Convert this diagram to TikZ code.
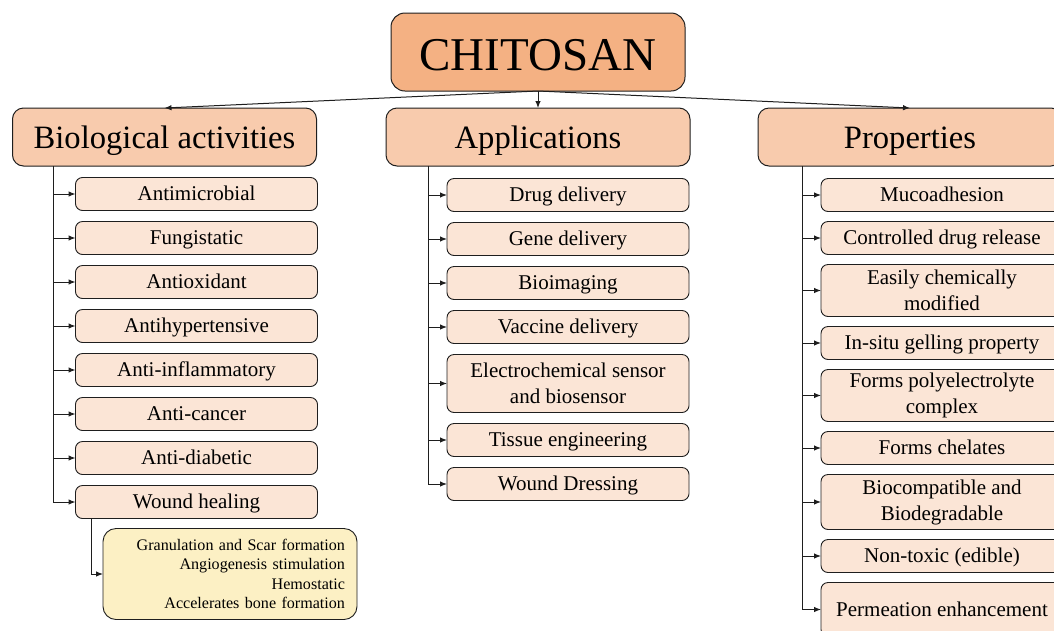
\documentclass[tikz,border=0pt]{standalone}
\usepackage{fontspec}
\setmainfont{Liberation Serif}
\usetikzlibrary{positioning,arrows.meta}
\definecolor{rootfill}{HTML}{F4B183}
\definecolor{groupfill}{HTML}{F8CBAD}
\definecolor{itemfill}{HTML}{FBE5D6}
\definecolor{notefill}{HTML}{FCF0C4}
\definecolor{edge}{HTML}{1E1E1E}

\begin{document}
\begin{tikzpicture}[
    x=1pt, y=-1pt,
    node distance=11pt,
    root/.style={draw=edge, line width=1pt, fill=rootfill, rounded corners=14pt, minimum width=294pt, minimum height=78pt, inner sep=0pt, outer sep=0pt, text height=37pt, text depth=0pt, font=\fontsize{47}{50}\selectfont},
    group/.style={draw=edge, line width=1pt, fill=groupfill, rounded corners=11pt, minimum width=304pt, minimum height=58pt, inner sep=0pt, outer sep=0pt, text height=23.5pt, text depth=0pt, font=\fontsize{32.6}{36}\selectfont},
    item/.style={draw=edge, line width=0.9pt, fill=itemfill, rounded corners=7pt, minimum width=242pt, minimum height=33pt, inner sep=0pt, outer sep=0pt, text height=13.6pt, text depth=0pt, align=center, font=\fontsize{21}{26}\selectfont},
    tall/.style={item, text height={}, text depth={}, minimum height=52pt},
    note/.style={draw=edge, line width=0.9pt, fill=notefill, rounded corners=13pt, minimum width=254pt, minimum height=91pt, text width=230pt, inner xsep=12pt, inner ysep=0pt, outer sep=0pt, align=right, font=\fontsize{16.1}{19.4}\selectfont},
    arr/.style={-{Latex[length=7pt,width=5.5pt]}, line width=1pt, draw=edge}
]
    \useasboundingbox (0,0) rectangle (1054,630);
    \clip (0,0) rectangle (1054,630);

    % top
    \node[root] (chitosan) at (538,52) {CHITOSAN};
    \node[group] (bio) at (164.5,137) {Biological activities};
    \node[group] (app) at (538,137) {Applications};
    \node[group] (prop) at (910,137) {Properties};

    \draw[arr] (chitosan.south) -- (bio.north);
    \draw[arr] (chitosan.south) -- (app.north);
    \draw[arr] (chitosan.south) -- (prop.north);

    % biological activities
    \node[item] (antimicrobial) at (196.5,194) {Antimicrobial};
    \node[item, below=of antimicrobial] (fungistatic) {Fungistatic};
    \node[item, below=of fungistatic] (antioxidant) {Antioxidant};
    \node[item, below=of antioxidant] (antihyper) {Antihypertensive};
    \node[item, below=of antihyper] (antiinfl) {Anti-inflammatory};
    \node[item, below=of antiinfl] (anticancer) {Anti-cancer};
    \node[item, below=of anticancer] (antidiab) {Anti-diabetic};
    \node[item, below=of antidiab] (wound) {Wound healing};
    \node[note] (woundnote) at (230,574) {Granulation and Scar formation\\Angiogenesis stimulation\\Hemostatic\\Accelerates bone formation};

    \foreach \n in {antimicrobial,fungistatic,antioxidant,antihyper,antiinfl,anticancer,antidiab,wound}
        \draw[arr] ([xshift=41pt]bio.south west) |- (\n.west);
    \draw[arr] ([xshift=16pt]wound.south west) |- (woundnote.west);

    % applications
    \node[item] (drug) at (568,195) {Drug delivery};
    \node[item, below=of drug] (gene) {Gene delivery};
    \node[item, below=of gene] (bioimg) {Bioimaging};
    \node[item, below=of bioimg] (vaccine) {Vaccine delivery};
    \node[tall, minimum height=58pt, below=of vaccine] (sensor) {Electrochemical sensor\\and biosensor};
    \node[item, below=of sensor] (tissue) {Tissue engineering};
    \node[item, below=of tissue] (dressing) {Wound Dressing};

    \foreach \n in {drug,gene,bioimg,vaccine,sensor,tissue,dressing}
        \draw[arr] ([xshift=42pt]app.south west) |- (\n.west);

    % properties
    \node[item] (muco) at (942,195) {Mucoadhesion};
    \node[item, below=10pt of muco] (release) {Controlled drug release};
    \node[tall, below=10pt of release] (modified) {Easily chemically\\modified};
    \node[item, below=10pt of modified] (insitu) {In-situ gelling property};
    \node[tall, below=10pt of insitu] (polyel) {Forms polyelectrolyte\\complex};
    \node[item, below=10pt of polyel] (chelates) {Forms chelates};
    \node[tall, minimum height=55pt, below=10pt of chelates] (biocomp) {Biocompatible and\\Biodegradable};
    \node[item, below=10pt of biocomp] (nontoxic) {Non-toxic (edible)};
    \node[tall, minimum height=54pt, below=10pt of nontoxic] (permeation) {Permeation enhancement};

    \foreach \n in {muco,release,modified,insitu,polyel,chelates,biocomp,nontoxic,permeation}
        \draw[arr] ([xshift=44pt]prop.south west) |- (\n.west);
\end{tikzpicture}
\end{document}
